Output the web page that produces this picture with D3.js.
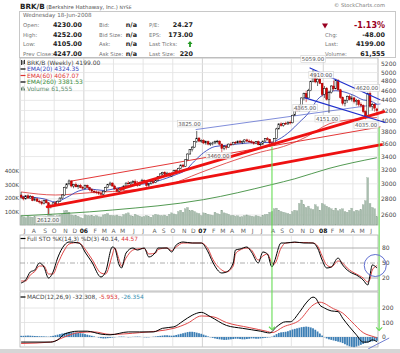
<!DOCTYPE html>
<html>
<head>
<meta charset="utf-8">
<script src="https://cdn.jsdelivr.net/npm/d3@7"></script>
<style>
body { margin: 0; background: #fff; }
svg text { font-family: "DejaVu Sans", Verdana, sans-serif; }
</style>
</head>
<body>
<svg id="chart" width="400" height="353"></svg>
<script>
// weekly bars, first bar = week of 20-Jun-2005, last = week of 16-Jun-2008
const weeks = d3.timeMonday.range(new Date(2005, 5, 20), new Date(2008, 5, 17));

const open = [
  2850,2820,2800,2840,2810,2830,2780,2800,2770,2760,2740,2780,2750,2700,2710,2750,2730,2770,2810,2850,2950,3000,3040,2970,2990,2960,2980,2950,
  2940,2980,2950,2920,2900,2890,2880,2870,2860,2900,2950,2990,3010,2970,2930,2900,2940,2920,2970,3010,3000,3020,3030,3000,2980,3020,3050,3020,2980,3000,3030,3020,3050,3100,3140,3160,3130,3150,3110,3150,3190,3170,3220,3270,3250,3350,3440,3510,3550,3640,3700,3650,
  3660,3620,3640,3600,3610,3620,3640,3650,3600,3530,3560,3550,3600,3590,3630,3620,3650,3630,3640,3670,3650,3640,3630,3610,3640,3590,3600,3650,3690,3680,3620,
  3590,3690,3860,3950,3920,3960,3950,3980,3970,4110,4240,4200,4300,4450,4540,4450,4600,4800,4960,4790,4850,4760,4520,4650,4420,4560,4700,4640,4820,4620,4460,4340,4400,4480,4420,4450,4380,4400,4320,4300,4180,4100,4540,4280,4320,4230
];
const high = [
  2890,2840,2850,2860,2850,2840,2820,2810,2790,2780,2790,2800,2760,2730,2760,2770,2780,2820,2860,2960,3010,3060,3050,3000,3020,2990,3000,2970,
  2990,2990,2960,2940,2920,2910,2900,2890,2910,2960,3000,3030,3020,2990,2950,2950,2960,2980,3020,3040,3030,3050,3060,3040,3030,3070,3060,3030,3010,3040,3050,3060,3110,3150,3170,3180,3170,3160,3160,3200,3210,3230,3280,3290,3360,3450,3520,3570,3650,3825,3720,3680,
  3680,3660,3660,3630,3640,3660,3670,3660,3610,3580,3590,3610,3630,3640,3650,3660,3670,3660,3680,3690,3680,3670,3650,3650,3660,3620,3660,3700,3720,3690,3650,
  3700,3880,3960,3980,3970,3990,4000,4010,4120,4250,4290,4320,4460,4560,4600,4640,4820,5059,4990,4880,4910,4770,4700,4680,4600,4720,4820,4860,4850,4640,4480,4420,4500,4520,4500,4470,4430,4420,4360,4320,4200,4560,4620,4350,4340,4252
];
const low = [
  2800,2780,2790,2800,2800,2770,2770,2760,2740,2720,2730,2740,2612,2680,2700,2710,2720,2760,2800,2840,2930,2980,2950,2940,2950,2930,2940,2920,
  2930,2940,2900,2880,2870,2860,2850,2840,2850,2890,2940,2970,2960,2920,2890,2880,2910,2910,2960,2990,2970,3000,2990,2960,2970,3010,3010,2960,2950,2990,3000,3010,3040,3090,3120,3120,3110,3100,3100,3140,3150,3160,3210,3230,3240,3340,3430,3480,3540,3620,3630,3620,
  3600,3590,3580,3570,3580,3600,3610,3580,3460,3500,3510,3540,3570,3580,3600,3610,3610,3600,3620,3630,3620,3610,3590,3600,3580,3560,3590,3640,3660,3600,3570,
  3580,3680,3850,3900,3900,3930,3930,3940,3960,4100,4180,4180,4280,4400,4365,4440,4590,4780,4760,4700,4740,4480,4450,4400,4151,4540,4600,4630,4600,4430,4300,4280,4350,4400,4380,4340,4300,4280,4260,4150,4035,4090,4250,4200,4180,4105
];
const close = [
  2820,2800,2840,2810,2830,2780,2800,2770,2760,2740,2780,2750,2700,2710,2750,2730,2770,2810,2850,2950,3000,3040,2970,2990,2960,2980,2950,2940,
  2980,2950,2920,2900,2890,2880,2870,2860,2900,2950,2990,3010,2970,2930,2900,2940,2920,2970,3010,3000,3020,3030,3000,2980,3020,3050,3020,2980,3000,3030,3020,3050,3100,3140,3160,3130,3150,3110,3150,3190,3170,3220,3270,3250,3350,3440,3510,3550,3640,3700,3650,3660,
  3620,3640,3600,3610,3620,3640,3650,3600,3530,3560,3550,3600,3590,3630,3620,3650,3630,3640,3670,3650,3640,3630,3610,3640,3590,3600,3650,3690,3680,3620,3590,
  3690,3860,3950,3920,3960,3950,3980,3970,4110,4240,4200,4300,4450,4540,4450,4600,4800,4960,4790,4850,4760,4520,4650,4420,4560,4700,4640,4820,4620,4460,4340,4400,4480,4420,4450,4380,4400,4320,4300,4180,4100,4540,4280,4320,4247,4199
];
// volume in thousands
const volume = [
  70,60,55,65,60,58,62,55,50,52,60,65,130,80,70,62,68,75,80,105,110,95,75,70,72,65,55,50,
  75,70,68,72,65,70,62,60,75,80,85,72,70,68,74,66,62,78,84,90,70,64,80,72,66,60,64,70,62,58,72,80,75,70,68,74,66,80,90,82,78,100,110,95,120,130,105,110,100,90,85,70,
  90,85,80,75,72,95,85,80,110,90,85,80,70,72,65,68,60,62,70,75,68,65,62,70,66,60,72,78,80,95,100,
  120,125,110,100,95,90,85,80,100,110,105,160,185,150,130,140,120,115,150,135,110,160,150,140,130,120,110,125,105,115,120,100,95,110,125,100,110,105,115,150,180,350,160,130,120,61.555
];

// moving averages (week index -> value)
const ema20Weeks = [0,10,15,20,25,30,36,42,50,56,62,68,72,76,80,85,90,100,110,113,118,122,126,130,134,138,142,146,150,153,156];
const ema20 = [2830,2800,2760,2820,2900,2930,2910,2940,2990,3005,3060,3130,3190,3330,3460,3560,3580,3620,3630,3680,3820,3980,4150,4420,4550,4600,4570,4500,4410,4390,4324.35];
const ema60Weeks = [0,15,30,50,65,78,90,105,115,125,135,145,156];
const ema60 = [2890,2850,2880,2920,2990,3150,3300,3470,3560,3720,3950,4030,4067.07];
const ema260Weeks = [0,40,80,110,120,135,156];
const ema260 = [2590,2660,2790,2990,3070,3220,3381.53];

// Full STO %K(14,3) and %D(3)
const stoWeeks = [0,2,4,6,8,10,12,14,16,19,21,25,26,28,31,35,37,40,41,43,44,46,49,51,54,56,59,60,64,66,68,71,75,79,82,84,88,90,93,94,96,99,101,104,106,108,110,111,114,116,120,124,128,130,132,134,136,139,141,143,145,147,150,152,153,154,156];
const stoK = [10,16,32,36,50,42,20,32,60,86,92,90,88,72,52,22,32,82,80,46,40,70,80,76,80,62,72,80,80,72,86,92,90,90,72,52,30,32,50,76,78,82,72,50,72,68,42,52,90,90,92,90,90,80,56,40,42,60,46,36,30,26,16,6,26,46,40.14];
const stoD = [14,14,26,33,44,44,28,28,48,76,88,91,89,78,58,30,28,66,80,56,44,60,76,78,79,68,70,77,80,75,82,90,90,90,78,58,36,32,44,68,76,80,76,56,64,68,50,48,80,90,91,91,90,84,64,46,42,54,50,40,33,28,20,12,18,36,44.57];

// MACD(12,26,9)
const macdWeeks = [0,13,16,19,25,29,35,39,47,52,58,62,67,71,75,79,83,90,97,105,109,112,116,118,122,125,128,129,131,133,136,139,141,144,147,150,152,154,156];
const macd = [-35,-35,-20,20,40,40,20,15,35,35,35,60,70,110,150,170,140,80,60,40,28,70,105,105,170,235,275,270,220,200,180,175,130,70,15,-35,-35,-20,-32.308];
const signalWeeks = [0,13,19,25,32,39,52,67,73,79,84,90,100,108,110,115,122,128,131,137,141,145,150,155,156];
const signal = [-45,-35,0,30,35,18,30,60,95,145,140,100,65,38,30,70,115,220,240,195,165,105,30,0,-5.953];
const hist = [
  8,8,9,10,9,8,7,6,5,5,4,3,2,
  5,8,12,16,20,24,27,30,32,33,32,30,28,26,24,
  20,16,12,8,4,0,-4,-8,-10,-10,-8,-6,-4,
  -2,0,2,3,2,0,-2,-1,1,2,3,2,0,-2,-3,-2,0,2,4,
  6,8,10,12,12,10,9,10,14,18,22,26,30,34,36,36,34,30,26,22,
  16,10,4,-2,-6,-10,-14,-16,-18,-20,-20,-18,-16,-14,-12,-12,-14,-16,-16,-14,-12,-10,-10,-12,-12,-10,-8,-6,-4,
  -2,2,10,20,28,32,34,36,40,46,52,56,60,64,68,70,72,70,66,
  60,50,38,24,10,-2,-10,-16,-20,-24,-28,-32,-36,
  -42,-50,-58,-64,-68,-70,-66,-60,-54,-48,-42,-38,-34,-30,-28,-26.354
];

// price labels placed on the chart: value shown, anchor week, anchor price
const labelValues = [5059, 4910, 4620, 4365, 4151, 4035, 3825, 3460, 2612];
const labelWeeks = [128, 131.5, 151.7, 124.5, 134.2, 151.3, 73.8, 86.4, 11.8];
const labelPrices = [5321, 4944, 4658, 4250, 4046, 3926, 3954, 3415, 2543];
// trend lines: [week1, price1, week2, price2]
const redThick = [[11.4, 2700, 158, 3590], [43.4, 2928, 159.1, 4178]];
const redThin = [[22.3, 3040, 157.4, 3895]];
const blueThin = [[76.7, 3849, 157.4, 4328]];
const blueChannel = [[126.7, 5106, 157.4, 4413], [124.5, 4452, 159.6, 3975]];

const priceTicks = d3.range(2600, 5201, 200);
const volTicks = [100, 200, 300, 400];
const stoTicks = [20, 50, 80];
const macdTicks = [0, 100, 200];
const monthLetters = 'JFMAMJJASOND';

// ---------------------------------------------------------------
const svg = d3.select('#chart');
const L = 20, R = 378;
const P = { top: 58, bot: 225 };
const S = { top: 235, bot: 291 };
const M = { top: 292, bot: 347 };
const n = close.length;

const x = d3.scaleLinear().domain([-0.5, n - 0.5]).range([L, R]);
const y = d3.scaleLog().domain([2600, 5200]).range([215, 64]);
const yVol = d3.scaleLinear().domain([0, 400]).range([P.bot, 171]);
const ySto = d3.scaleLinear().domain([0, 100]).range([288, 238]);
const yMacd = d3.scaleLinear().domain([0, 200]).range([337, 308]);

// header
const ttl = svg.append('text').attr('x', 20).attr('y', 8.5).attr('font-size', 7.2).attr('font-weight', 'bold').attr('fill', '#222').text('BRK/B');
const tw = ttl.node().getComputedTextLength();
const sub = svg.append('text').attr('x', 20 + tw + 1.5).attr('y', 8.5).attr('fill', '#555');
sub.append('tspan').attr('font-size', 5.4).text('(Berkshire Hathaway, Inc.) ');
sub.append('tspan').attr('font-size', 4.6).text('NYSE');
svg.append('text').attr('x', 385).attr('y', 7).attr('font-size', 5.2).attr('fill', '#777').attr('text-anchor', 'end').text('© StockCharts.com');

svg.append('rect').attr('x', 19.5).attr('y', 11.5).attr('width', 376).attr('height', 46)
  .attr('fill', '#fff').attr('stroke', '#c8c8c8');

const rowsY = [17, 27, 36.5, 46, 55.5];
const info = svg.append('g');
info.append('text').attr('x', 23).attr('y', rowsY[0]).attr('font-size', 5.6).attr('fill', '#666').text('Wednesday  18-Jun-2008');
const infoCols = [
  { lx: 23, vx: 82, labels: ['Open:', 'High:', 'Low:', 'Prev Close:'], values: ['4230.00', '4252.00', '4105.00', '4247.00'] },
  { lx: 99, vx: 137, labels: ['Bid:', 'Bid Size:', 'Ask:', 'Ask Size:'], values: ['n/a', 'n/a', 'n/a', 'n/a'] },
  { lx: 149, vx: 193, labels: ['P/E:', 'EPS:', 'Last Ticks:', 'Last Size:'], values: ['24.27', '173.00', '', '220'] },
  { lx: 325, vx: 385, labels: ['', 'Chg:', 'Last:', 'Volume:'], values: ['', '-48.00', '4199.00', '61,555'] }
];
infoCols.forEach(c => {
  c.labels.forEach((t, k) => {
    info.append('text').attr('x', c.lx).attr('y', rowsY[k + 1]).attr('font-size', 5.4).attr('fill', '#777').text(t);
    info.append('text').attr('x', c.vx).attr('y', rowsY[k + 1]).attr('text-anchor', 'end')
      .attr('font-family', '"Liberation Sans", Arial, sans-serif')
      .attr('font-size', 6.4).attr('font-weight', 'bold').attr('fill', '#222').text(c.values[k]);
  });
});
// green up arrow (last ticks)
info.append('path').attr('d', 'M190,41 l2.5,3 h-1.6 v3 h-1.8 v-3 h-1.6 z').attr('fill', '#229922');
// red change
info.append('path').attr('d', 'M322,23.5 h6 l-3,5 z').attr('fill', '#990022');
info.append('text').attr('x', 385).attr('y', rowsY[1] + 0.5).attr('text-anchor', 'end')
  .attr('font-family', '"Liberation Sans", Arial, sans-serif')
  .attr('font-size', 8).attr('font-weight', 'bold').attr('fill', '#990022').text('-1.13%');

// panels
[P, S, M].forEach(p => {
  svg.append('rect').attr('x', L).attr('y', p.top).attr('width', R - L).attr('height', p.bot - p.top)
    .attr('fill', '#fff').attr('stroke', '#b0b0b0').attr('stroke-width', 0.8);
});

// vertical grid at quarter starts + month labels
const firstOfMonth = d3.range(1, n).filter(i => weeks[i].getMonth() !== weeks[i - 1].getMonth());
const quarterWeeks = firstOfMonth.filter(i => weeks[i].getMonth() % 3 === 0);
[P, S, M].forEach(p => {
  svg.append('g').selectAll('line').data(quarterWeeks).join('line')
    .attr('x1', i => x(i - 0.5)).attr('x2', i => x(i - 0.5))
    .attr('y1', p.top).attr('y2', p.bot)
    .attr('stroke', i => weeks[i].getMonth() === 0 ? '#c8c8c8' : '#e0e0e0').attr('stroke-width', 0.8);
});
svg.append('g').selectAll('text').data(firstOfMonth).join('text')
  .attr('x', i => x(i - 0.5)).attr('y', 232.5).attr('text-anchor', 'middle')
  .attr('font-size', 6).attr('fill', i => weeks[i].getMonth() === 0 ? '#111' : '#666')
  .attr('font-weight', i => weeks[i].getMonth() === 0 ? 'bold' : 'normal')
  .text(i => weeks[i].getMonth() === 0 ? d3.timeFormat('%y')(weeks[i]) : monthLetters[weeks[i].getMonth()]);

// price grid and axis
svg.append('g').selectAll('line').data(priceTicks).join('line')
  .attr('x1', L).attr('x2', R).attr('y1', d => y(d)).attr('y2', d => y(d))
  .attr('stroke', '#e3e3e3').attr('stroke-width', 0.8);
svg.append('g').selectAll('text').data(priceTicks).join('text')
  .attr('x', 381).attr('y', d => y(d) + 2).attr('font-size', 6).attr('fill', '#444').text(d => d);
svg.append('g').selectAll('text').data(volTicks).join('text')
  .attr('x', 19).attr('y', d => yVol(d) + 2).attr('text-anchor', 'end')
  .attr('font-size', 5.6).attr('fill', '#444').text(d => d + 'K');

// volume bars
svg.append('g').selectAll('rect').data(volume).join('rect')
  .attr('x', (d, i) => x(i) - 0.95).attr('width', 1.9)
  .attr('y', d => yVol(d)).attr('height', d => P.bot - yVol(d))
  .attr('fill', '#a9bdae').attr('stroke', '#93a898').attr('stroke-width', 0.3);

// moving averages
const line = (wk, vals, ys) => d3.line().curve(d3.curveMonotoneX)
  .x((d, k) => x(wk[k])).y(d => ys(d))(vals);
svg.append('path').attr('d', line(ema260Weeks, ema260, y)).attr('fill', 'none').attr('stroke', '#3f8f3f').attr('stroke-width', 0.9);
svg.append('path').attr('d', line(ema60Weeks, ema60, y)).attr('fill', 'none').attr('stroke', '#e04444').attr('stroke-width', 0.9);
svg.append('path').attr('d', line(ema20Weeks, ema20, y)).attr('fill', 'none').attr('stroke', '#3344bb').attr('stroke-width', 0.9);

// trend lines behind candles
const seg = (g, data, color, w) => g.selectAll(null).data(data).join('line')
  .attr('x1', d => x(d[0])).attr('y1', d => y(d[1])).attr('x2', d => x(d[2])).attr('y2', d => y(d[3]))
  .attr('stroke', color).attr('stroke-width', w).attr('stroke-linecap', 'round');
const tl = svg.append('g');
seg(tl, blueThin, '#6070d0', 0.8);
seg(tl, redThin, '#e02020', 0.9);

// candles
const cg = svg.append('g');
const col = i => (i > 0 && close[i] < close[i - 1]) ? '#cc0000' : '#000';
cg.selectAll('line').data(d3.range(n)).join('line')
  .attr('x1', i => x(i)).attr('x2', i => x(i))
  .attr('y1', i => y(high[i])).attr('y2', i => y(low[i]))
  .attr('stroke', col).attr('stroke-width', 0.6);
cg.selectAll('rect').data(d3.range(n)).join('rect')
  .attr('x', i => x(i) - 0.9).attr('width', 1.8)
  .attr('y', i => y(Math.max(open[i], close[i])))
  .attr('height', i => Math.max(0.7, Math.abs(y(open[i]) - y(close[i]))))
  .attr('fill', i => close[i] >= open[i] ? '#fff' : '#dd0000')
  .attr('stroke', i => close[i] >= open[i] ? '#000' : '#990000').attr('stroke-width', 0.5);

// annotation lines over candles
const tl2 = svg.append('g');
seg(tl2, redThick, '#ee1111', 2.8);
seg(tl2, blueChannel, '#1f2fcc', 1.2);

// price labels
labelValues.forEach((v, k) => {
  const g = svg.append('g').attr('transform', `translate(${x(labelWeeks[k])},${y(labelPrices[k])})`);
  const t = g.append('text').attr('text-anchor', 'middle').attr('y', 2).attr('font-size', 5.4)
    .attr('fill', '#555').text(v.toFixed(2));
  const b = t.node().getBBox();
  g.insert('rect', 'text').attr('x', b.x - 1).attr('y', b.y - 0.3).attr('width', b.width + 2).attr('height', b.height + 0.6)
    .attr('fill', '#fff').attr('fill-opacity', 0.85).attr('stroke', '#c8c8c8').attr('stroke-width', 0.5);
});

// price legend
const lg = svg.append('g').attr('font-size', 6);
const legRows = [
  { t: 'BRK/B (Weekly) 4199.00', c: '#444', icon: 'candle' },
  { t: 'EMA(20) 4324.35', c: '#3344bb', icon: '#000' },
  { t: 'EMA(60) 4067.07', c: '#dd3333', icon: '#dd3333' },
  { t: 'EMA(260) 3381.53', c: '#3f8f3f', icon: '#000' },
  { t: 'Volume 61,555', c: '#5f9070', icon: 'vol' }
];
legRows.forEach((r, k) => {
  const yy = 62.5 + k * 6.5;
  if (r.icon === 'candle') {
    lg.append('path').attr('d', `M21.5,${yy - 2.5}v5M23,${yy - 2}v4M24.5,${yy - 2.5}v4`).attr('stroke', '#222').attr('stroke-width', 0.9);
  } else if (r.icon === 'vol') {
    lg.append('path').attr('d', `M21,${yy + 2}v-3h1v3zM22.5,${yy + 2}v-4h1v4zM24,${yy + 2}v-2h1v2z`).attr('fill', '#5f7f6a');
  } else {
    lg.append('line').attr('x1', 20.5).attr('x2', 25.5).attr('y1', yy).attr('y2', yy).attr('stroke', r.icon).attr('stroke-width', 1.2);
  }
  lg.append('text').attr('x', 27).attr('y', yy + 2.1).attr('fill', r.c).text(r.t);
});

// STO panel
svg.append('g').selectAll('line').data(stoTicks).join('line')
  .attr('x1', L).attr('x2', R).attr('y1', d => ySto(d)).attr('y2', d => ySto(d))
  .attr('stroke', '#999').attr('stroke-width', 0.8)
  .attr('stroke-dasharray', d => d === 50 ? '5,2,1,2' : null);
svg.append('g').selectAll('text').data(stoTicks).join('text')
  .attr('x', 382).attr('y', d => ySto(d) + 2).attr('font-size', 6).attr('fill', '#444').text(d => d);
svg.append('path').attr('d', line(stoWeeks, stoD, ySto)).attr('fill', 'none').attr('stroke', '#e04848').attr('stroke-width', 1);
svg.append('path').attr('d', line(stoWeeks, stoK, ySto)).attr('fill', 'none').attr('stroke', '#000').attr('stroke-width', 1);
const sl = svg.append('text').attr('x', 27).attr('y', 240.5).attr('font-size', 5.8).attr('fill', '#444');
sl.append('tspan').text('Full STO %K(14,3) %D(3) 40.14, ');
sl.append('tspan').attr('fill', '#dd3333').text('44.57');
svg.append('line').attr('x1', 20.5).attr('x2', 25.5).attr('y1', 238.5).attr('y2', 238.5).attr('stroke', '#000').attr('stroke-width', 1.2);

// MACD panel
svg.append('g').selectAll('line').data(macdTicks).join('line')
  .attr('x1', L).attr('x2', R).attr('y1', d => yMacd(d)).attr('y2', d => yMacd(d))
  .attr('stroke', '#e0e0e0').attr('stroke-width', 0.8);
svg.append('g').selectAll('text').data(macdTicks).join('text')
  .attr('x', 382).attr('y', d => yMacd(d) + 2).attr('font-size', 6).attr('fill', '#444').text(d => d);
svg.append('g').selectAll('rect').data(hist).join('rect')
  .attr('x', (d, i) => x(i) - 0.9).attr('width', 1.8)
  .attr('y', d => Math.min(yMacd(d), yMacd(0))).attr('height', d => Math.abs(yMacd(d) - yMacd(0)))
  .attr('fill', '#3d7fb5');
svg.append('path').attr('d', line(signalWeeks, signal, yMacd)).attr('fill', 'none').attr('stroke', '#e04848').attr('stroke-width', 1);
svg.append('path').attr('d', line(macdWeeks, macd, yMacd)).attr('fill', 'none').attr('stroke', '#000').attr('stroke-width', 1);
const ml = svg.append('text').attr('x', 27).attr('y', 299).attr('font-size', 5.8).attr('fill', '#444');
ml.append('tspan').text('MACD(12,26,9) -32.308, ');
ml.append('tspan').attr('fill', '#dd3333').text('-5.953');
ml.append('tspan').text(', ');
ml.append('tspan').attr('fill', '#3a90b0').text('-26.354');
svg.append('line').attr('x1', 20.5).attr('x2', 25.5).attr('y1', 297).attr('y2', 297).attr('stroke', '#000').attr('stroke-width', 1.2);

// green vertical markers with arrow heads
const markWeeks = [110, 157];
const markFrom = [3560, 3890];
const markTo = [50, 45];
markWeeks.forEach((i, k) => {
  const xx = x(i), y1 = y(markFrom[k]), y2 = yMacd(markTo[k]);
  svg.append('line').attr('x1', xx).attr('x2', xx).attr('y1', y1).attr('y2', y2)
    .attr('stroke', '#66dd55').attr('stroke-width', 1.1);
  svg.append('path').attr('d', `M${xx - 3},${y2 - 3}L${xx},${y2}L${xx + 3},${y2 - 3}`)
    .attr('fill', 'none').attr('stroke', '#66dd55').attr('stroke-width', 1.1);
});
// blue circle on the STO and slash under the MACD
svg.append('circle').attr('cx', x(155.3)).attr('cy', ySto(45)).attr('r', 11)
  .attr('fill', 'none').attr('stroke', '#5060cc').attr('stroke-width', 0.9);
svg.append('line').attr('x1', x(152.2)).attr('y1', yMacd(-82)).attr('x2', x(161.4)).attr('y2', yMacd(-7))
  .attr('stroke', '#6070cc').attr('stroke-width', 0.9);

// footer band
svg.append('rect').attr('x', 0).attr('y', 349).attr('width', 400).attr('height', 4).attr('fill', '#d6d6d6');
</script>
</body>
</html>
